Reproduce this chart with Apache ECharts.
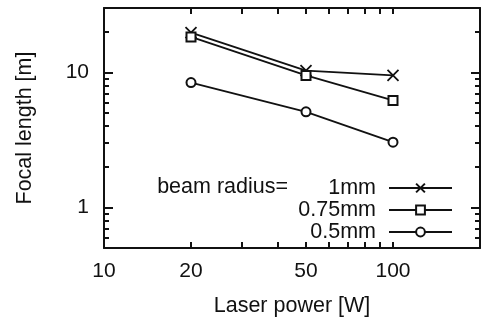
<!DOCTYPE html>
<html>
<head>
<meta charset="utf-8">
<script src="https://cdn.jsdelivr.net/npm/echarts@6/dist/echarts.min.js"></script>
<style>
  html, body { margin: 0; background: #fff; }
  #chart { width: 483px; height: 322px; }
</style>
</head>
<body>
<div id="chart"></div>
<script>
// data (log-log plot)
const laserPower = [20, 50, 100]
const focal1mm = [19.7, 10.3, 9.5]
const focal075mm = [18.3, 9.5, 6.2]
const focal05mm = [8.4, 5.1, 3.04]
const seriesNames = ['1mm', '0.75mm', '0.5mm']

const xLabelValues = [10, 20, 50, 100]
const xTickValues = [20, 30, 40, 50, 60, 70, 80, 90, 100]
const yLabelValues = [1, 10]
const yMinorValues = [0.6, 0.7, 0.8, 0.9, 2, 3, 4, 5, 6, 7, 8, 9, 20]

const FONT = '"Liberation Sans", Arial, sans-serif'
const INK = '#111'
const X_SYMBOL = 'path://M0,0L10,10M10,0L0,10'

const pairs = (ys) => laserPower.map((x, i) => [x, ys[i]])

function xAxisCfg(position, showLabel) {
  return {
    type: 'log', logBase: 10, min: 10, max: 200, position,
    axisLine: { show: true, lineStyle: { color: INK, width: 2 } },
    axisTick: { show: true, inside: true, length: 6, lineStyle: { color: INK, width: 2 }, customValues: xTickValues },
    axisLabel: {
      show: showLabel, customValues: xLabelValues, margin: 13,
      fontSize: 21, fontFamily: FONT, color: INK,
    },
    splitLine: { show: false },
    name: showLabel ? 'Laser power [W]' : '',
    nameLocation: 'middle', nameGap: 47,
    nameTextStyle: { fontSize: 21.5, fontFamily: FONT, color: INK },
  }
}

function yAxisCfg(position, major, showLabel) {
  return {
    type: 'log', logBase: 10, min: 0.5, max: 30, position, offset: 0,
    axisLine: { show: major, lineStyle: { color: INK, width: 2 } },
    axisTick: {
      show: true, inside: true, length: major ? 9 : 5,
      lineStyle: { color: INK, width: 2 },
      customValues: major ? yLabelValues : yMinorValues,
    },
    axisLabel: {
      show: showLabel, customValues: yLabelValues, margin: 15,
      fontSize: 21, fontFamily: FONT, color: INK,
    },
    splitLine: { show: false },
    name: showLabel ? 'Focal length [m]' : '',
    nameLocation: 'middle', nameGap: 68,
    nameTextStyle: { fontSize: 21.5, fontFamily: FONT, color: INK },
  }
}

function lineSeries(name, ys, symbol, size) {
  return {
    name, type: 'line', data: pairs(ys),
    xAxisIndex: 0, yAxisIndex: 0,
    symbol, symbolSize: size,
    lineStyle: { color: INK, width: 1.8 },
    itemStyle: { color: INK, borderColor: INK, borderWidth: 1.8 },
    emphasis: { disabled: true },
    z: 3,
  }
}

const chart = echarts.init(document.getElementById('chart'))
chart.setOption({
  animation: false,
  backgroundColor: '#fff',
  grid: { left: 104, right: 3, top: 8, bottom: 72 },
  xAxis: [xAxisCfg('bottom', true), xAxisCfg('top', false)],
  yAxis: [
    yAxisCfg('left', true, true),
    yAxisCfg('left', false, false),
    yAxisCfg('right', true, false),
    yAxisCfg('right', false, false),
  ],
  legend: {
    data: seriesNames,
    orient: 'vertical', align: 'right',
    right: 30, top: 177, padding: 0,
    itemWidth: 63, itemHeight: 11, itemGap: 0,
    textStyle: { fontSize: 21.5, fontFamily: FONT, color: INK, lineHeight: 18, padding: [0, 8, 0, 0] },
  },
  graphic: [{
    type: 'text', x: 288, y: 187,
    style: { text: 'beam radius=', align: 'right', verticalAlign: 'middle', fontSize: 21.5, fontFamily: FONT, fill: INK },
  }],
  series: [
    lineSeries(seriesNames[0], focal1mm, X_SYMBOL, 11),
    lineSeries(seriesNames[1], focal075mm, 'emptyRect', 9),
    lineSeries(seriesNames[2], focal05mm, 'emptyCircle', 9),
  ],
})
</script>
</body>
</html>
